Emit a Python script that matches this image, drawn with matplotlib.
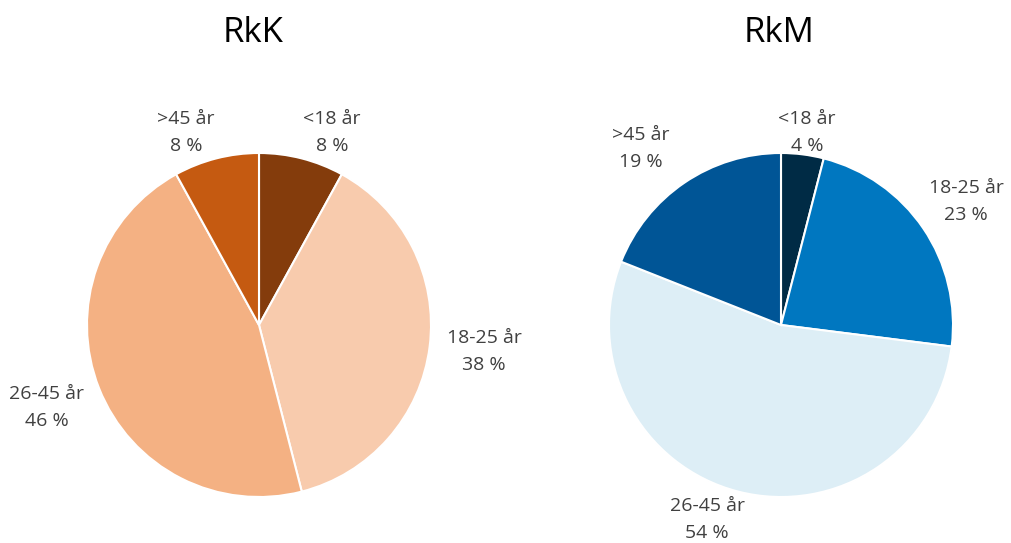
import matplotlib
matplotlib.use("Agg")
import matplotlib.pyplot as plt

plt.rcParams['font.family'] = ['Open Sans', 'DejaVu Sans']

groups = ["<18 år", "18-25 år", "26-45 år", ">45 år"]

rkk_pct = [8, 38, 46, 8]
rkm_pct = [4, 23, 54, 19]

rkk_colors = ["#843C0C", "#F8CBAD", "#F4B183", "#C55A11"]
rkm_colors = ["#002B45", "#0077C0", "#DDEEF6", "#005596"]

# label anchors, in units of the pie radius from the pie centre
rkk_label_xy = [(0.424, 1.118), (1.308, -0.155), (-1.233, -0.481), (-0.424, 1.118)]
rkm_label_xy = [(0.151, 1.118), (1.076, 0.717), (-0.430, -1.130), (-0.814, 1.025)]

W, H = 1012, 543
R_PX = 172          # pie radius in pixels
LIM = 1.4           # axes half-width in data units


def add_pie(cx, cy, title, title_x, values, colors, label_xy):
    half = LIM * R_PX
    ax = fig.add_axes([(cx - half) / W, (H - cy - half) / H, 2 * half / W, 2 * half / H])
    ax.pie(values, colors=colors, startangle=90, counterclock=False,
           radius=1.0, wedgeprops=dict(edgecolor="white", linewidth=1.5))
    ax.set_xlim(-LIM, LIM)
    ax.set_ylim(-LIM, LIM)
    ax.set_aspect("equal")
    ax.axis("off")

    for name, v, (lx, ly) in zip(groups, values, label_xy):
        ax.text(lx, ly, f"{name}\n{v} %", ha="center", va="center",
                fontsize=14, color="#404040", linespacing=1.65)

    fig.text(title_x / W, 1 - 33 / H, title, ha="center", va="center",
             fontsize=25, color="black")


fig = plt.figure(figsize=(W / 100, H / 100), dpi=100)
fig.patch.set_facecolor("white")

add_pie(259, 325, "RkK", 253, rkk_pct, rkk_colors, rkk_label_xy)
add_pie(781, 325, "RkM", 779, rkm_pct, rkm_colors, rkm_label_xy)

fig.savefig("out.png", dpi=100, facecolor="white")
